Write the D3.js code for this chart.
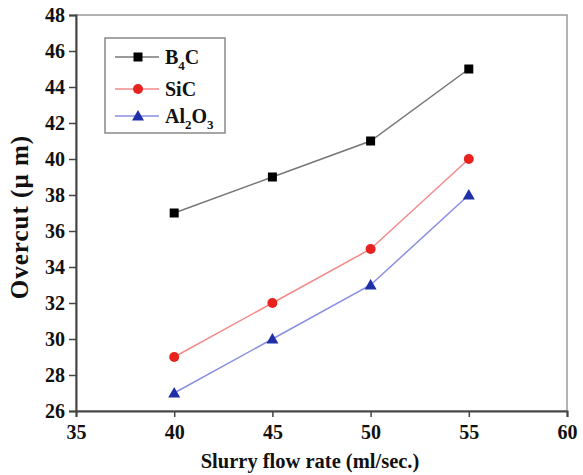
<!DOCTYPE html>
<html>
<head>
<meta charset="utf-8">
<script src="https://cdn.jsdelivr.net/npm/d3@7"></script>
<style>
  body { margin: 0; background: #fff; }
  svg text { font-family: "Times New Roman", "Liberation Serif", "DejaVu Serif", serif !important; font-weight: bold; }
</style>
</head>
<body>
<svg id="chart" width="583" height="475"></svg>
<script>
// data
const flowRate = [40, 45, 50, 55];
const b4c = [37, 39, 41, 45];
const sic = [29, 32, 35, 40];
const al2o3 = [27, 30, 33, 38];
const xTicks = [35, 40, 45, 50, 55, 60];
const yTicks = [26, 28, 30, 32, 34, 36, 38, 40, 42, 44, 46, 48];

const series = [
  { name: [['B', 0], ['4', 1], ['C', 0]], values: b4c, line: '#777', fill: '#000', shape: 'square' },
  { name: [['SiC', 0]], values: sic, line: '#f28a8a', fill: '#e8231f', shape: 'circle' },
  { name: [['Al', 0], ['2', 1], ['O', 0], ['3', 1]], values: al2o3, line: '#8a8ee0', fill: '#1f2fa8', shape: 'triangle' }
];

const svg = d3.select('#chart');
const mLeft = 76, mRight = 567, mTop = 15, mBottom = 411;

const x = d3.scaleLinear().domain([35, 60]).range([mLeft, mRight]);
const y = d3.scaleLinear().domain([26, 48]).range([mBottom, mTop]);

// frame
svg.append('rect')
  .attr('x', mLeft).attr('y', mTop)
  .attr('width', mRight - mLeft).attr('height', mBottom - mTop)
  .attr('fill', 'none').attr('stroke', '#999').attr('stroke-width', 1.5);

let xAxis = svg.append('g')
  .attr('transform', 'translate(0,' + mBottom + ')')
  .call(d3.axisBottom(x).tickValues(xTicks).tickSize(6).tickPadding(4));
let yAxis = svg.append('g')
  .attr('transform', 'translate(' + mLeft + ',0)')
  .call(d3.axisLeft(y).tickValues(yTicks).tickSize(7).tickPadding(4));

[xAxis, yAxis].forEach(a => {
  a.attr('font-family', null);
  a.select('.domain').attr('stroke', '#444').attr('stroke-width', 2);
  a.selectAll('.tick line').attr('stroke', '#444').attr('stroke-width', 1.5);
  a.selectAll('.tick text')
    .style('font-size', '20px')
    .attr('fill', '#111');
});
xAxis.selectAll('.tick text').attr('dy', '0.9em');

function drawMarker(g, shape, cx, cy, fill) {
  if (shape === 'square') {
    g.append('rect').attr('x', cx - 4.5).attr('y', cy - 4.5)
      .attr('width', 9).attr('height', 9).attr('fill', fill);
  } else if (shape === 'circle') {
    g.append('circle').attr('cx', cx).attr('cy', cy).attr('r', 5).attr('fill', fill);
  } else {
    g.append('path')
      .attr('d', 'M' + cx + ',' + (cy - 6) + 'L' + (cx + 6) + ',' + (cy + 4.5) + 'L' + (cx - 6) + ',' + (cy + 4.5) + 'Z')
      .attr('fill', fill);
  }
}

const line = d3.line().x((d, i) => x(flowRate[i])).y(d => y(d));

series.forEach(s => {
  let g = svg.append('g');
  g.append('path')
    .datum(s.values)
    .attr('d', line)
    .attr('fill', 'none')
    .attr('stroke', s.line)
    .attr('stroke-width', 1.5);
  s.values.forEach((v, i) => drawMarker(g, s.shape, x(flowRate[i]), y(v), s.fill));
});

// legend
let legend = svg.append('g');
legend.append('rect')
  .attr('x', 105).attr('y', 38).attr('width', 120).attr('height', 95)
  .attr('fill', '#fff').attr('stroke', '#888').attr('stroke-width', 1.5);
const rowsY = [57, 89, 116];
series.forEach((s, i) => {
  let ry = rowsY[i];
  legend.append('line')
    .attr('x1', 115).attr('x2', 159).attr('y1', ry).attr('y2', ry)
    .attr('stroke', s.line).attr('stroke-width', 1.5);
  drawMarker(legend, s.shape, 138, ry, s.fill);
  let t = legend.append('text')
    .attr('x', 165).attr('y', ry + 7)
    .style('font-size', '20px')
    .attr('fill', '#111');
  s.name.forEach((p, j) => {
    let ts = t.append('tspan').text(p[0]);
    if (p[1]) ts.attr('dy', 6).style('font-size', '13px');
    else if (j > 0) ts.attr('dy', -6);
  });
});

// axis titles
svg.append('text')
  .attr('x', 310).attr('y', 468)
  .attr('text-anchor', 'middle')
  .style('font-size', '20.5px')
  .attr('fill', '#111')
  .text('Slurry flow rate (ml/sec.)');

svg.append('text')
  .attr('transform', 'translate(28,217) rotate(-90)')
  .attr('text-anchor', 'middle')
  .style('font-size', '25px')
  .style('letter-spacing', '1px')
  .attr('fill', '#111')
  .text('Overcut (\u00b5 m)');
</script>
</body>
</html>
